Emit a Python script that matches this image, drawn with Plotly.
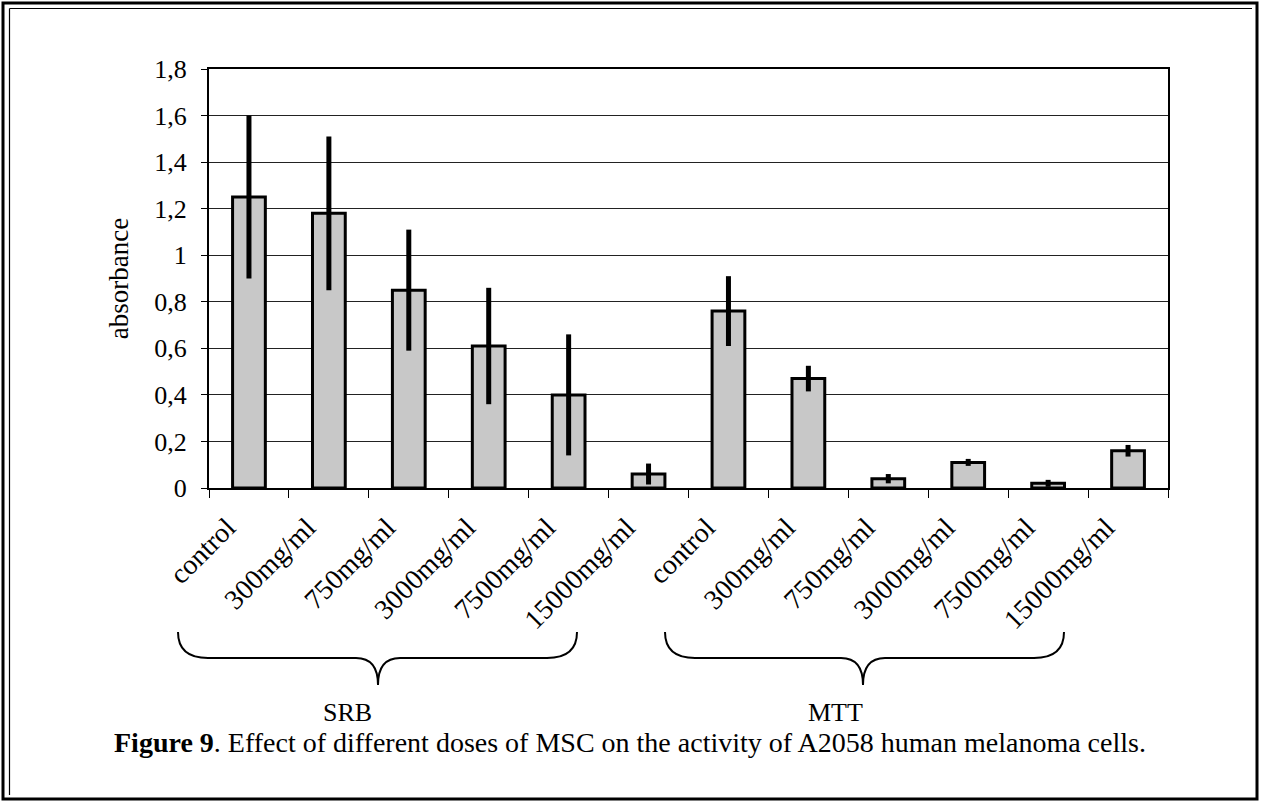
import plotly.graph_objects as go

# ---- data ----
categories = ["control", "300mg/ml", "750mg/ml", "3000mg/ml", "7500mg/ml", "15000mg/ml",
              "control", "300mg/ml", "750mg/ml", "3000mg/ml", "7500mg/ml", "15000mg/ml"]
groups = ["SRB", "MTT"]
absorbance = [1.25, 1.18, 0.85, 0.61, 0.40, 0.06,
              0.76, 0.47, 0.04, 0.11, 0.02, 0.16]
errors = [0.35, 0.33, 0.26, 0.25, 0.26, 0.045,
          0.15, 0.055, 0.02, 0.015, 0.015, 0.025]
y_ticks = [0, 0.2, 0.4, 0.6, 0.8, 1.0, 1.2, 1.4, 1.6, 1.8]
caption = "<b>Figure 9</b>. Effect of different doses of MSC on the activity of A2058 human melanoma cells."

FONT = "Liberation Serif"
FIG_W, FIG_H = 1262, 804
L, R, T, B = 209, 1168, 69, 488
PW, PH = R - L, B - T


def px(xp):
    return (xp - L) / PW


def py(yp):
    return (B - yp) / PH


xs = list(range(len(categories)))
label_pos = [x - 0.27 for x in xs]

fig = go.Figure()
fig.add_trace(go.Bar(
    x=xs, y=absorbance, width=0.41,
    marker=dict(color="#c8c8c8", line=dict(color="black", width=3)),
    error_y=dict(type="data", array=errors, visible=True,
                 thickness=5, width=0, color="black"),
    showlegend=False,
))
# invisible trace on overlay axis for boundary tick marks
fig.add_trace(go.Scatter(x=[-0.5, 11.5], y=[0, 0], xaxis="x2", mode="markers",
                         marker=dict(opacity=0), showlegend=False, hoverinfo="skip"))

fig.update_layout(
    width=FIG_W, height=FIG_H,
    margin=dict(l=L, r=FIG_W - R, t=T, b=FIG_H - B),
    paper_bgcolor="white", plot_bgcolor="white",
    separators=", ",
    font=dict(family=FONT, size=26, color="black"),
    bargap=0.59,
    xaxis=dict(
        range=[-0.5, 11.5], tickmode="array", tickvals=label_pos, ticktext=categories,
        tickangle=-45, ticks="", showgrid=False, zeroline=False,
        showline=True, linecolor="black", linewidth=2, mirror=True,
        tickfont=dict(family=FONT, size=28), ticklabelstandoff=10,
    ),
    xaxis2=dict(
        overlaying="x", matches="x", range=[-0.5, 11.5], side="bottom",
        tickmode="array", tickvals=[i - 0.5 for i in range(13)],
        ticks="outside", ticklen=9, tickwidth=1, tickcolor="black",
        showticklabels=False, showgrid=False, zeroline=False, showline=False,
    ),
    yaxis=dict(
        range=[0, 1.8], tickmode="array", tickvals=y_ticks,
        ticks="outside", ticklen=6, tickwidth=1, tickcolor="black",
        showgrid=True, gridcolor="#222222", gridwidth=1, zeroline=False,
        showline=True, linecolor="black", linewidth=2, mirror=True,
        tickfont=dict(family=FONT, size=26), ticklabelstandoff=9,
        title=dict(text="absorbance", font=dict(family=FONT, size=27), standoff=18),
    ),
)


def brace(left, right, tip, top, mid, bottom):
    pts = [(left, top), (left, mid), (left + 30, mid), (tip - 22, mid),
           (tip, mid), (tip, bottom), (tip, mid), (tip + 22, mid),
           (right - 30, mid), (right, mid), (right, top)]
    c = [(px(a), py(b)) for a, b in pts]
    return (f"M {c[0][0]},{c[0][1]} Q {c[1][0]},{c[1][1]} {c[2][0]},{c[2][1]} "
            f"L {c[3][0]},{c[3][1]} Q {c[4][0]},{c[4][1]} {c[5][0]},{c[5][1]} "
            f"Q {c[6][0]},{c[6][1]} {c[7][0]},{c[7][1]} "
            f"L {c[8][0]},{c[8][1]} Q {c[9][0]},{c[9][1]} {c[10][0]},{c[10][1]}")


shapes = [
    dict(type="path", xref="paper", yref="paper",
         path=brace(178, 577, 378, 632, 658, 685), line=dict(color="black", width=2)),
    dict(type="path", xref="paper", yref="paper",
         path=brace(665, 1064, 863, 632, 658, 685), line=dict(color="black", width=2)),
    # outer frame
    dict(type="rect", xref="paper", yref="paper",
         x0=px(3), x1=px(1257), y0=py(799), y1=py(3),
         line=dict(color="black", width=3)),
    # inner thin frame lines (left, top)
    dict(type="line", xref="paper", yref="paper",
         x0=px(9.5), x1=px(9.5), y0=py(795), y1=py(8.5), line=dict(color="black", width=1.2)),
    dict(type="line", xref="paper", yref="paper",
         x0=px(9.5), x1=px(1252), y0=py(8.5), y1=py(8.5), line=dict(color="black", width=1.2)),
]
fig.update_layout(shapes=shapes)

annotations = [
    dict(text=groups[0], x=px(347), y=py(712), xref="paper", yref="paper",
         xanchor="center", yanchor="middle",
         showarrow=False, font=dict(family=FONT, size=26)),
    dict(text=groups[1], x=px(835), y=py(712), xref="paper", yref="paper",
         xanchor="center", yanchor="middle",
         showarrow=False, font=dict(family=FONT, size=26)),
    dict(text=caption, x=px(630), y=py(742), xref="paper", yref="paper",
         xanchor="center", yanchor="middle",
         showarrow=False, font=dict(family=FONT, size=28)),
]
fig.update_layout(annotations=annotations)

fig.write_html("out.html", config={"displayModeBar": False},
               post_script="document.body.style.margin='0px';")
